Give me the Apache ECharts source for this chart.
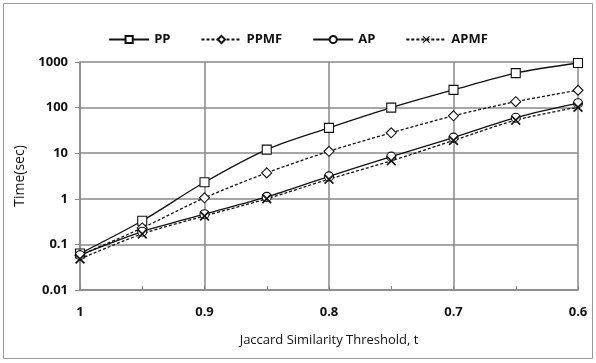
<!DOCTYPE html>
<html>
<head>
<meta charset="utf-8">
<script src="https://cdn.jsdelivr.net/npm/echarts@6/dist/echarts.min.js"></script>
<style>
  html, body { margin: 0; padding: 0; background: #fff; }
  #chart { width: 596px; height: 363px; }
</style>
</head>
<body>
<div id="chart"></div>
<script>
// Jaccard threshold (x axis, decreasing)
var thresholds = ['1', '0.95', '0.9', '0.85', '0.8', '0.75', '0.7', '0.65', '0.6'];
// time in seconds
var pp   = [0.063, 0.33, 2.3, 12, 36, 100, 245, 570, 950];
var ppmf = [0.058, 0.23, 1.05, 3.7, 11, 28, 66, 135, 240];
var ap   = [0.058, 0.19, 0.46, 1.1, 3.1, 8.4, 22, 60, 125];
var apmf = [0.048, 0.17, 0.42, 1.0, 2.7, 6.8, 19, 53, 102];

var xPath = 'path://M0,1.2L1.2,0L5,3.8L8.8,0L10,1.2L6.2,5L10,8.8L8.8,10L5,6.2L1.2,10L0,8.8L3.8,5Z';
var font = 'Open Sans';

function mkSeries(name, data, symbol, size, dashed) {
    return {
        name: name,
        type: 'line',
        data: data,
        smooth: 0.3,
        symbol: symbol,
        symbolSize: size,
        itemStyle: {
            color: symbol === xPath ? '#111' : '#fff',
            borderColor: '#111',
            borderWidth: symbol === xPath ? 0 : 1.1
        },
        lineStyle: {
            color: '#111',
            width: 1.3,
            type: dashed ? [3, 2] : 'solid'
        },
        z: 3
    };
}

var chart = echarts.init(document.getElementById('chart'));
var option = {
    backgroundColor: '#fff',
    animation: false,
    textStyle: { fontFamily: font },
    graphic: [{
        type: 'rect',
        shape: { x: 3.5, y: 3.5, width: 589, height: 355 },
        style: { fill: 'none', stroke: '#999', lineWidth: 1 }
    }],
    legend: {
        top: 28,
        left: 'center',
        itemWidth: 40,
        itemHeight: 9,
        itemGap: 30,
        textStyle: { fontFamily: font, fontWeight: 'bold', fontSize: 13, color: '#111' },
        data: ['PP', 'PPMF', 'AP', 'APMF']
    },
    grid: { left: 80, right: 18, top: 62, bottom: 73 },
    xAxis: {
        type: 'category',
        data: thresholds,
        boundaryGap: false,
        name: 'Jaccard Similarity Threshold, t',
        nameLocation: 'middle',
        nameGap: 44,
        nameTextStyle: { fontFamily: font, fontSize: 13, color: '#111' },
        axisLine: { lineStyle: { color: '#888', width: 1.5 } },
        axisTick: { show: true, inside: true, length: 4, interval: 0, lineStyle: { color: '#888' } },
        axisLabel: {
            interval: 1,
            margin: 16,
            fontFamily: font,
            fontWeight: 'bold',
            fontSize: 13,
            color: '#111'
        },
        splitLine: { show: true, interval: 1, lineStyle: { color: '#888', width: 1.5 } }
    },
    yAxis: {
        type: 'log',
        logBase: 10,
        min: 0.01,
        max: 1000,
        name: 'Time(sec)',
        nameLocation: 'middle',
        nameGap: 42,
        nameTextStyle: { fontFamily: font, fontSize: 14, color: '#111' },
        axisLine: { show: true, lineStyle: { color: '#888', width: 1.5 } },
        axisTick: { show: true, length: 5, lineStyle: { color: '#888' } },
        axisLabel: {
            margin: 12,
            fontFamily: font,
            fontWeight: 'bold',
            fontSize: 13,
            color: '#111',
            formatter: function (v) { return String(+v.toPrecision(3)); }
        },
        splitLine: { show: true, lineStyle: { color: '#888', width: 1.5 } }
    },
    series: [
        mkSeries('PP', pp, 'rect', 9, false),
        mkSeries('PPMF', ppmf, 'diamond', 10, true),
        mkSeries('AP', ap, 'circle', 9, false),
        mkSeries('APMF', apmf, xPath, 10, true)
    ]
};
chart.setOption(option);
</script>
</body>
</html>
